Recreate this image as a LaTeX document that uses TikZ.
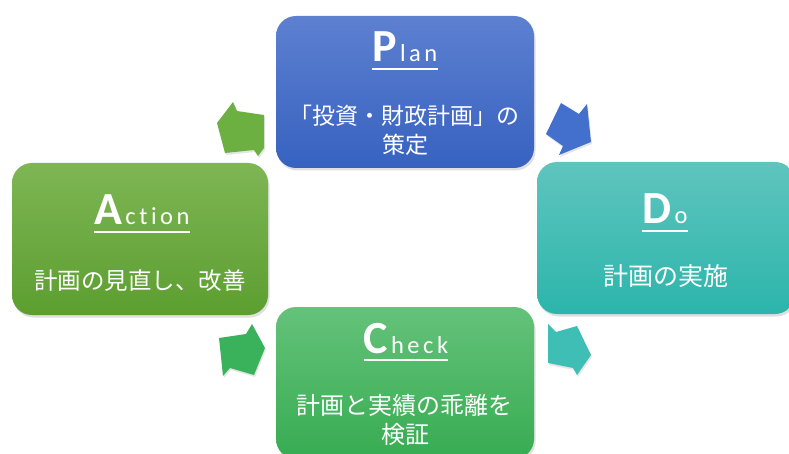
\documentclass[tikz,border=0pt]{standalone}
\usepackage{fontspec}
\setmainfont{Carlito}
\newfontfamily\jp{Noto Sans CJK JP}
\usetikzlibrary{shadows}
\definecolor{plantop}{RGB}{93,128,208}
\definecolor{planbot}{RGB}{55,98,192}
\definecolor{dotop}{RGB}{94,197,190}
\definecolor{dobot}{RGB}{44,181,171}
\definecolor{chtop}{RGB}{100,194,122}
\definecolor{chbot}{RGB}{55,172,82}
\definecolor{actop}{RGB}{126,182,84}
\definecolor{acbot}{RGB}{92,158,48}
\definecolor{arone}{RGB}{66,112,204}
\definecolor{artwo}{RGB}{62,190,180}
\definecolor{arthree}{RGB}{58,178,92}
\definecolor{arfour}{RGB}{108,176,66}
\newcommand\hbig{\fontsize{46}{50}\selectfont\bfseries}
\newcommand\hsm{\fontsize{24.5}{28}\selectfont}
\newcommand\ls{\kern3.5pt}
\begin{document}
\begin{tikzpicture}[x=1pt,y=-1pt,
  box/.style={rounded corners=20pt, minimum width=258pt, minimum height=152pt, inner sep=0pt, draw=none,
    drop shadow={shadow xshift=1.5pt,shadow yshift=-2.5pt,opacity=0.25}},
  hd/.style={text=white, inner sep=0pt, anchor=base},
  jt/.style={text=white, inner sep=0pt, anchor=base, font=\jp\fontsize{#1}{28}\selectfont},
  jt/.default=24,
  ul/.style={draw=white, line width=1.6pt},
  arr/.style={drop shadow={shadow xshift=1pt,shadow yshift=-2pt,opacity=0.2}}]
\useasboundingbox (0,0) rectangle (789,454);
\clip (0,0) rectangle (789,454);
\fill[white] (0,0) rectangle (789,454);

% boxes
\node[box, top color=plantop, bottom color=planbot] (plan) at (405,92) {};
\node[box, top color=dotop, bottom color=dobot] (do) at (666,238) {};
\node[box, minimum width=256pt, top color=actop, bottom color=acbot] (act) at (140,239) {};
\node[box, top color=chtop, bottom color=chbot] (check) at (405,383) {};

% arrows
\fill[arone, arr] (561,103) -- (579,114) -- (587,104) -- (591,142) -- (559,155) -- (563,146) -- (546,134) -- cycle;
\fill[artwo, arr] (548,324) -- (556,332) -- (577,326) -- (591,355) -- (577,375) -- (573,368) -- (548,363) -- cycle;
\fill[arthree, arr] (252,324) -- (265,348) -- (254,375) -- (230,368) -- (223,376) -- (219,338) -- (246,334) -- cycle;
\fill[arfour, arr] (233,102) -- (237,111) -- (264,115) -- (264,148) -- (258,156) -- (254,150) -- (225,153) -- (217,123) -- cycle;

% headers
\node[hd] (ph) at (405,62) {{\hbig P}\kern3pt{\hsm l\ls a\ls n}};
\draw[ul] ([yshift=-7pt]ph.base west) -- ([yshift=-7pt]ph.base east);
\node[hd] (dh) at (665,224) {{\hbig D}\kern3pt{\hsm o}};
\draw[ul] ([yshift=-7pt]dh.base west) -- ([yshift=-7pt]dh.base east);
\node[hd] (ah) at (142,225) {{\hbig A}\kern3pt{\hsm c\ls t\ls i\ls o\ls n}};
\draw[ul] ([yshift=-7pt]ah.base west) -- ([yshift=-7pt]ah.base east);
\node[hd] (ch) at (406,353) {{\hbig C}\kern3pt{\hsm h\ls e\ls c\ls k}};
\draw[ul] ([yshift=-7pt]ch.base west) -- ([yshift=-7pt]ch.base east);

% body texts
\node[jt=23] (pt1) at (404,124.5) {「投資・財政計画」の};
\node[jt=23] (pt2) at (405,154) {策定};
\node[jt=25] (dt) at (666,285) {計画の実施};
\node[jt=23.5] (at) at (140,289) {計画の見直し、改善};
\node[jt] (ct1) at (404,414) {計画と実績の乖離を};
\node[jt] (ct2) at (405,443) {検証};
\end{tikzpicture}
\end{document}
